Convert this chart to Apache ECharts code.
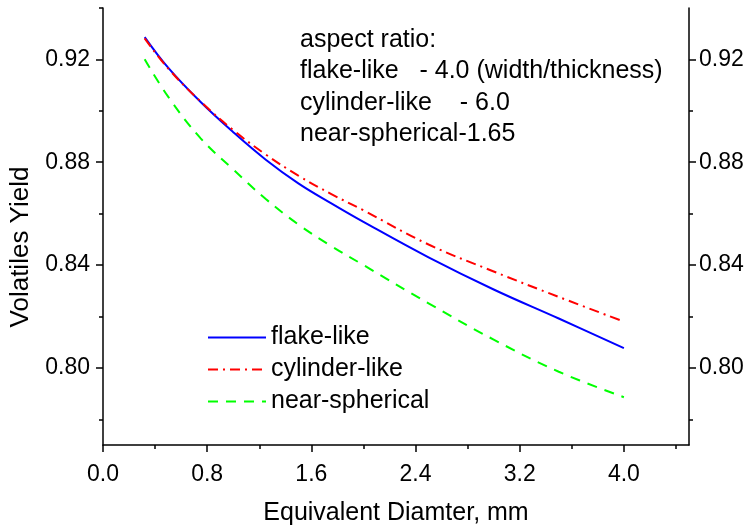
<!DOCTYPE html>
<html>
<head>
<meta charset="utf-8">
<script src="https://cdn.jsdelivr.net/npm/echarts@6/dist/echarts.min.js"></script>
<style>html,body{margin:0;padding:0;background:#fff;}#c{width:748px;height:531px;}</style>
</head>
<body>
<div id="c"></div>
<script>
const xValues = [0.32, 0.5, 0.75, 1.0, 1.25, 1.5, 1.75, 2.0, 2.5, 3.0, 3.5, 4.0];
const flake = [0.9287, 0.9168, 0.9034, 0.8917, 0.8810, 0.8718, 0.8641, 0.8568, 0.843, 0.8305, 0.8192, 0.8077];
const cylinder = [0.9282, 0.9165, 0.9036, 0.8925, 0.8830, 0.8748, 0.8677, 0.8613, 0.848, 0.8375, 0.8276, 0.818];
const spherical = [0.9201, 0.9055, 0.8893, 0.8772, 0.8657, 0.8558, 0.8475, 0.8400, 0.8251, 0.811, 0.7985, 0.7886];
const seriesNames = ['flake-like', 'cylinder-like', 'near-spherical'];
const xMajorTicks = [0, 0.8, 1.6, 2.4, 3.2, 4.0];
const xMinorTicks = [0.4, 1.2, 2.0, 2.8, 3.6, 4.4];
const yMajorTicks = [0.80, 0.84, 0.88, 0.92];
const yMinorTicks = [0.78, 0.82, 0.86, 0.90, 0.94];
const xTitle = 'Equivalent Diamter, mm';
const yTitle = 'Volatiles Yield';
const noteLines = ['aspect ratio:', 'flake-like   - 4.0 (width/thickness)', 'cylinder-like    - 6.0', 'near-spherical-1.65'];

const FF = '"Liberation Sans", Arial, sans-serif';
const pair = (xs, ys) => xs.map((x, i) => [x, ys[i]]);
const chart = echarts.init(document.getElementById('c'), null, {renderer: 'canvas'});
const axisLine = {show: true, lineStyle: {color: '#000', width: 1.5}};
const hidden = {show: false};

function yAx(pos, major) {
  return {
    type: 'value', position: pos, min: 0.77, max: 0.94,
    axisLine: major ? axisLine : hidden,
    splitLine: hidden,
    axisTick: {show: true, inside: false, length: major ? 7 : 4, lineStyle: {color: '#000', width: 1.5},
      customValues: major ? yMajorTicks : (pos === 'left' ? yMinorTicks : yMinorTicks.slice(0, 4))},
    axisLabel: major ? {show: true, customValues: yMajorTicks, formatter: v => v.toFixed(2),
      fontSize: 23, color: '#000', fontFamily: FF, margin: pos === 'left' ? 13 : 10} : hidden
  };
}
function xAx(major) {
  return {
    type: 'value', position: 'bottom', min: 0, max: 4.5,
    axisLine: major ? axisLine : hidden,
    splitLine: hidden,
    axisTick: {show: true, inside: false, length: major ? 7 : 4, lineStyle: {color: '#000', width: 1.5},
      customValues: major ? xMajorTicks : xMinorTicks},
    axisLabel: major ? {show: true, customValues: xMajorTicks, formatter: v => v.toFixed(1),
      fontSize: 23, color: '#000', fontFamily: FF, margin: 18} : hidden,
    name: major ? xTitle : '', nameLocation: 'middle', nameGap: 56,
    nameTextStyle: {fontSize: 25, color: '#000', fontFamily: FF}
  };
}

chart.setOption({
  animation: false,
  backgroundColor: '#fff',
  grid: {left: 103, right: 59, top: 8, bottom: 79},
  xAxis: [xAx(true), xAx(false)],
  yAxis: [yAx('left', true), yAx('left', false), yAx('right', true), yAx('right', false)],
  legend: {
    orient: 'vertical', left: 202, top: 320, itemWidth: 58, itemHeight: 14, itemGap: 7,
    itemStyle: {opacity: 0},
    textStyle: {fontSize: 25, color: '#000', fontFamily: FF},
    data: seriesNames
  },
  graphic: [
    {type: 'text', left: 300, top: 24, style: {text: noteLines.join('\n'), fontSize: 25, lineHeight: 31.5, fill: '#000', font: '25px ' + FF}},
    {type: 'text', x: 21, y: 247, rotation: Math.PI / 2, style: {text: yTitle, fontSize: 26, fill: '#000', font: '26px ' + FF, align: 'center', verticalAlign: 'middle'}}
  ],
  series: [
    {name: seriesNames[0], type: 'line', data: pair(xValues, flake), smooth: 0.4, symbol: 'none',
      lineStyle: {color: '#0000ff', width: 2, type: 'solid'}, itemStyle: {color: '#0000ff'}},
    {name: seriesNames[1], type: 'line', data: pair(xValues, cylinder), smooth: 0.4, symbol: 'none',
      lineStyle: {color: '#ff0000', width: 2, type: [10, 5, 2, 5]}, itemStyle: {color: '#ff0000'}},
    {name: seriesNames[2], type: 'line', data: pair(xValues, spherical), smooth: 0.4, symbol: 'none',
      lineStyle: {color: '#00ff00', width: 2, type: [10, 8]}, itemStyle: {color: '#00ff00'}}
  ]
});
</script>
</body>
</html>
